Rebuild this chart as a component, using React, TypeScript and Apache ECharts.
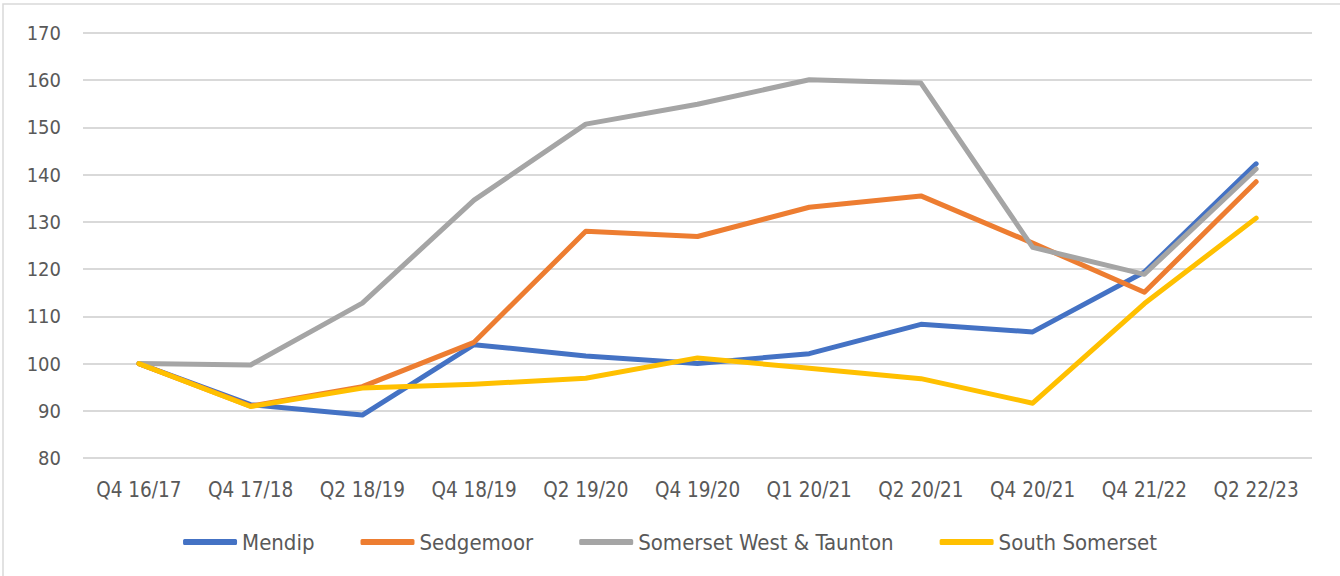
import React, { useEffect, useRef } from "react";
import * as echarts from "echarts";

const categories = ["Q4 16/17", "Q4 17/18", "Q2 18/19", "Q4 18/19", "Q2 19/20", "Q4 19/20", "Q1 20/21", "Q2 20/21", "Q4 20/21", "Q4 21/22", "Q2 22/23"];
const mendip = [100, 91.3, 89.1, 104.0, 101.6, 100.0, 102.1, 108.3, 106.7, 119.4, 142.3];
const sedgemoor = [100, 91.0, 95.1, 104.5, 128.0, 126.9, 133.1, 135.5, 125.5, 115.1, 138.5];
const somersetWest = [100, 99.7, 112.8, 134.6, 150.7, 154.9, 160.1, 159.4, 124.6, 118.9, 141.2];
const southSomerset = [100, 90.9, 94.8, 95.6, 96.9, 101.2, 99.0, 96.8, 91.6, 112.7, 130.8];
const seriesNames = ["Mendip", "Sedgemoor", "Somerset West & Taunton", "South Somerset"];
const colors = ["#4472C4", "#ED7D31", "#A5A5A5", "#FFC000"];

const FONT = "'Liberation Sans Narrow', 'DejaVu Sans Condensed', 'Roboto', sans-serif";

export default function App() {
  const ref = useRef<HTMLDivElement>(null);
  useEffect(() => {
    if (!ref.current) return;
    const chart = echarts.init(ref.current, undefined, { renderer: "svg" });
    const data = [mendip, sedgemoor, somersetWest, southSomerset];
    chart.setOption({
      animation: false,
      backgroundColor: "#ffffff",
      textStyle: { fontFamily: FONT },
      graphic: [
        {
          type: "rect",
          shape: { x: 3, y: 4, width: 1345, height: 580 },
          style: { fill: "none", stroke: "#d9d9d9", lineWidth: 1.5 },
          silent: true,
        },
      ],
      grid: { left: 83, right: 28, top: 33, bottom: 118 },
      legend: {
        bottom: 18,
        left: "center",
        itemWidth: 54,
        itemHeight: 6,
        itemGap: 46,
        icon: "roundRect",
        textStyle: { color: "#595959", fontSize: 22, fontFamily: FONT },
        data: seriesNames,
      },
      xAxis: {
        type: "category",
        data: categories,
        boundaryGap: true,
        axisLine: { show: false },
        axisTick: { show: false },
        axisLabel: { color: "#595959", fontSize: 20.5, margin: 21, fontFamily: FONT, interval: 0 },
      },
      yAxis: {
        type: "value",
        min: 80,
        max: 170,
        interval: 10,
        axisLine: { show: false },
        axisTick: { show: false },
        axisLabel: { color: "#595959", fontSize: 20, margin: 22, fontFamily: FONT },
        splitLine: { lineStyle: { color: "#d9d9d9", width: 2 } },
      },
      series: seriesNames.map((name, i) => ({
        name,
        type: "line",
        data: data[i],
        symbol: "none",
        color: colors[i],
        lineStyle: { width: 5, color: colors[i], cap: "round", join: "round" },
        z: 2 + i,
      })),
    });
    return () => chart.dispose();
  }, []);
  return (
    <div
      ref={ref}
      style={{ position: "fixed", left: 0, top: 0, width: 1340, height: 576 }}
    />
  );
}
